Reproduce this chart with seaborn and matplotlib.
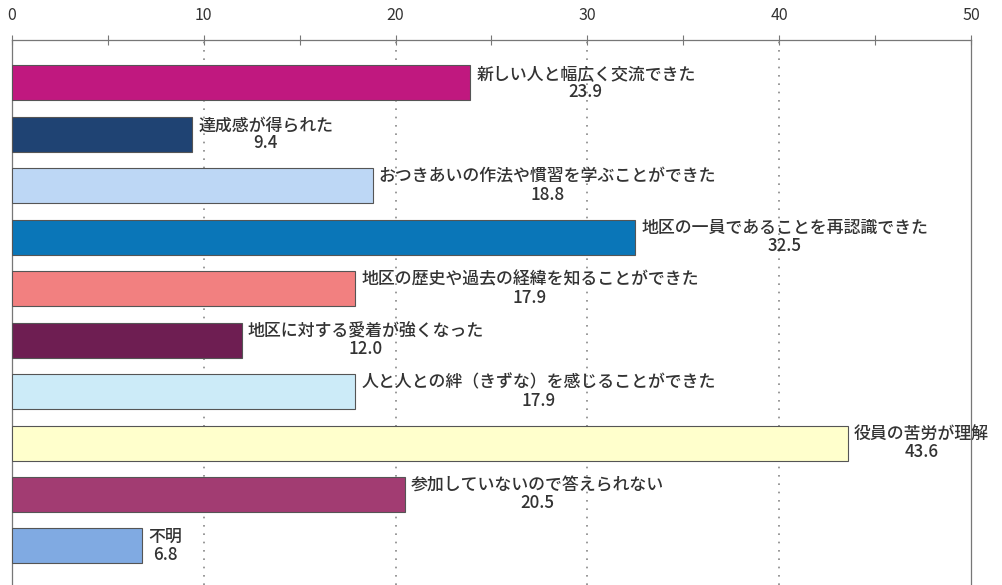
import matplotlib
matplotlib.use("Agg")
import matplotlib.pyplot as plt
import seaborn as sns
import pandas as pd
from matplotlib.ticker import MultipleLocator

# Survey answers (percent)
labels = [
    "新しい人と幅広く交流できた",
    "達成感が得られた",
    "おつきあいの作法や慣習を学ぶことができた",
    "地区の一員であることを再認識できた",
    "地区の歴史や過去の経緯を知ることができた",
    "地区に対する愛着が強くなった",
    "人と人との絆（きずな）を感じることができた",
    "役員の苦労が理解",
    "参加していないので答えられない",
    "不明",
]
values = [23.9, 9.4, 18.8, 32.5, 17.9, 12.0, 17.9, 43.6, 20.5, 6.8]
bar_colors = [
    "#C0187F", "#1F4373", "#BDD7F5", "#0A76B8", "#F28080",
    "#6E1E52", "#CCEBF8", "#FFFFCC", "#A23C72", "#80AAE2",
]
x_ticks = [0, 10, 20, 30, 40, 50]

df = pd.DataFrame({"label": labels, "value": values})

sns.set_style("white")
plt.rcParams["font.family"] = ["Noto Sans CJK JP", "DejaVu Sans"]

fig = plt.figure(figsize=(10.02, 5.85), dpi=100)
ax = fig.add_axes([0.012, 0.0, 0.957, 0.9316])

sns.barplot(data=df, y="label", x="value", hue="label", palette=bar_colors,
            orient="h", width=0.68, saturation=1, edgecolor="#555555",
            linewidth=0.8, legend=False, ax=ax, zorder=3)

# value labels right of each bar
for i, (lab, v) in enumerate(zip(labels, values)):
    ax.text(v + 0.3, i, f"{lab}\n{v:.1f}", ha="left", va="center",
            multialignment="center", fontsize=12.2, fontweight="medium",
            color="#333333", linespacing=1.0, zorder=4)

ax.set_xlim(0, 50)
ax.set_ylim(9.76, -0.835)
ax.xaxis.tick_top()
ax.set_xticks(x_ticks)
ax.xaxis.set_minor_locator(MultipleLocator(5))
ax.tick_params(axis="x", which="both", direction="inout", length=7,
               width=0.8, color="#777777", labelsize=11.5, labelcolor="#333333",
               pad=8)
ax.set_yticks([])
ax.set_xlabel("")
ax.set_ylabel("")

for x in x_ticks[1:-1]:
    ax.axvline(x, color="#888888", linestyle=(0, (1, 4)), linewidth=1.2, zorder=1)

for side in ["top", "left", "right"]:
    ax.spines[side].set_color("#777777")
    ax.spines[side].set_linewidth(0.9)
ax.spines["bottom"].set_visible(False)

fig.savefig("out.png", dpi=100)
